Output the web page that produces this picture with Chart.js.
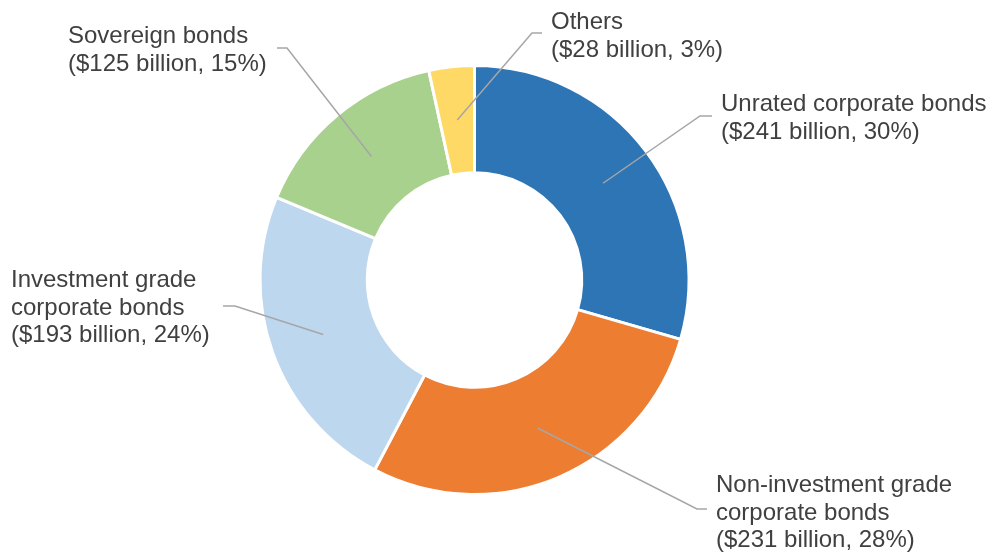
<!DOCTYPE html>
<html>
<head>
<meta charset="utf-8">
<script src="https://cdn.jsdelivr.net/npm/chart.js@4.4.1/dist/chart.umd.min.js"></script>
<style>
  html, body { margin: 0; padding: 0; background: #fff; }
  .chart-container { width: 992px; height: 556px; position: relative; }
</style>
</head>
<body>
<div class="chart-container">
  <canvas id="bondsChart"></canvas>
</div>
<script>
// values in $ billion, clockwise from 12 o'clock
const categories = [
    ['Unrated corporate bonds'],
    ['Non-investment grade', 'corporate bonds'],
    ['Investment grade', 'corporate bonds'],
    ['Sovereign bonds'],
    ['Others']
];
const amounts = [241, 231, 193, 125, 28];
const shares = [30, 28, 24, 15, 3];   // % as printed on the chart
const colors = ['#2E75B6', '#ED7D31', '#BDD7EE', '#A9D18E', '#FFD966'];

// where each callout goes: elbow of leader line, end of line, text anchor
const callouts = [
    { elbow: [700, 116], end: [712, 116], x: 721, y: 111, align: 'left' },
    { elbow: [697, 509], end: [707, 509], x: 716, y: 492, align: 'left' },
    { elbow: [235, 306], end: [223, 306], x: 11,  y: 287, align: 'left' },
    { elbow: [287, 48],  end: [277, 48],  x: 68,  y: 43,  align: 'left' },
    { elbow: [532, 33],  end: [542, 33],  x: 551, y: 29,  align: 'left' }
];

const calloutPlugin = {
    id: 'callouts',
    afterDraw(chart) {
        const ctx = chart.ctx;
        const arcs = chart.getDatasetMeta(0).data;
        ctx.save();
        arcs.forEach((arc, i) => {
            const c = callouts[i];
            const p = arc.tooltipPosition();
            ctx.strokeStyle = '#A6A6A6';
            ctx.lineWidth = 1.5;
            ctx.beginPath();
            ctx.moveTo(p.x, p.y);
            ctx.lineTo(c.elbow[0], c.elbow[1]);
            ctx.lineTo(c.end[0], c.end[1]);
            ctx.stroke();

            const lines = categories[i].concat(['($' + amounts[i] + ' billion, ' + shares[i] + '%)']);
            ctx.fillStyle = '#404040';
            ctx.font = '24px "Liberation Sans", Arial, sans-serif';
            ctx.textAlign = c.align;
            ctx.textBaseline = 'alphabetic';
            lines.forEach((t, k) => ctx.fillText(t, c.x, c.y + k * 27.5));
        });
        ctx.restore();
    }
};

new Chart(document.getElementById('bondsChart'), {
    type: 'doughnut',
    data: {
        labels: categories.map(c => c.join(' ')),
        datasets: [{
            data: amounts,
            backgroundColor: colors,
            borderColor: '#ffffff',
            borderWidth: 3
        }]
    },
    options: {
        responsive: true,
        maintainAspectRatio: false,
        animation: false,
        cutout: '50%',
        layout: { padding: { top: 64, bottom: 60, left: 0, right: 43 } },
        plugins: {
            legend: { display: false },
            tooltip: { enabled: false }
        }
    },
    plugins: [calloutPlugin]
});
</script>
</body>
</html>
